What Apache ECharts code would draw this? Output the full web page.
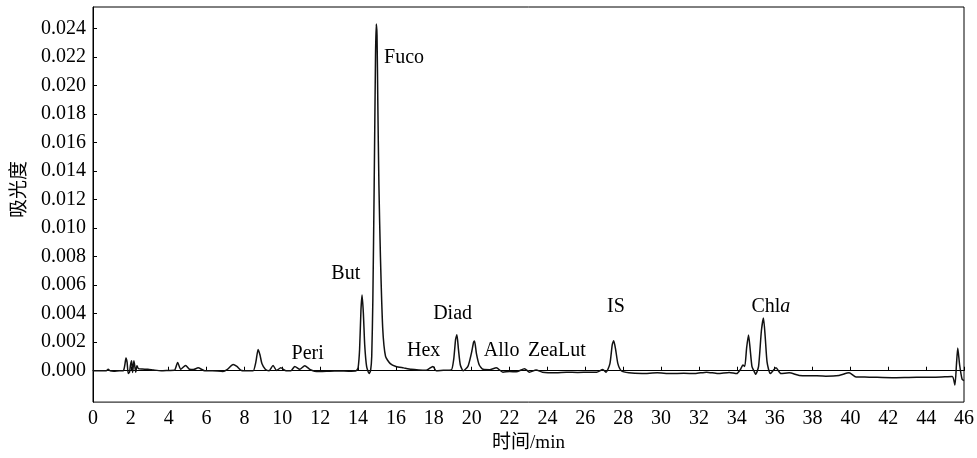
<!DOCTYPE html>
<html>

<head>
    <meta charset="UTF-8">
    <title>色谱图</title>
    <script src="https://cdn.jsdelivr.net/npm/echarts@6/dist/echarts.min.js"></script>
    <style>
        html, body { margin: 0; padding: 0; background: #fff; }
    </style>
</head>

<body>
    <div id="chromContainer" style="width: 977px; height: 458px;"></div>

    <script>
        // 保留时间 (min) 和吸光度
        var times = [0.0, 0.5, 0.7, 0.8, 0.9, 1.1, 1.4, 1.6, 1.68, 1.74, 1.80, 1.86, 1.93, 1.98, 2.04, 2.09, 2.16, 2.22, 2.26, 2.32,
            2.40, 2.6, 2.9, 3.2, 3.6, 4.0, 4.3, 4.47, 4.63, 4.89, 5.1, 5.3, 5.55, 5.9, 6.3, 6.86, 7.1, 7.4, 7.6, 7.84,
            8.2, 8.46, 8.6, 8.72, 8.82, 8.92, 9.1, 9.3, 9.51, 9.69, 9.92, 10.2, 10.45, 10.66, 10.92, 11.18, 11.45, 11.7, 12.0, 12.5,
            13.0, 13.5, 13.9, 14.0, 14.08, 14.15, 14.21, 14.28, 14.35, 14.45, 14.58, 14.66, 14.72, 14.78, 14.85, 14.92, 14.96, 15.0, 15.04, 15.1,
            15.18, 15.3, 15.45, 15.7, 16.0, 16.4, 16.8, 17.2, 17.6, 17.95, 18.13, 18.5, 18.92, 19.05, 19.15, 19.22, 19.3, 19.4, 19.55, 19.8,
            19.98, 20.1, 20.15, 20.25, 20.4, 20.6, 20.94, 21.3, 21.65, 22.0, 22.35, 22.79, 23.05, 23.4, 23.74, 24.46, 25.0, 25.6, 26.2, 26.6,
            26.92, 27.1, 27.3, 27.42, 27.5, 27.6, 27.72, 27.9, 28.3, 29.0, 29.8, 30.5, 31.2, 31.8, 32.4, 33.0, 33.6, 34.0, 34.2, 34.32,
            34.42, 34.52, 34.62, 34.7, 34.8, 34.9, 35.0, 35.15, 35.3, 35.41, 35.5, 35.6, 35.77, 36.07, 36.33, 36.77, 37.3, 38.0, 38.7, 39.4,
            39.93, 40.3, 41.0, 42.2, 43.5, 44.5, 45.38, 45.52, 45.6, 45.67, 45.77, 45.9, 46.0];
        var absorbance = [0.0, 0.0, 0.0, 0.0001, 0.0, -0.00003, 0.0, 0.0, 0.0004, 0.0009, 0.0006, -0.0002, -0.0001, 0.0004, 0.0007, -0.00013, 0.0007, 0.0002, -0.0001, 0.00035,
            0.00015, 0.00012, 0.0001, 0.00005, 0.0, 0.00002, 0.00003, 0.00058, 0.0001, 0.00037, 0.0001, 0.00008, 0.0002, 0.0, 0.0, -0.00005, 0.0001, 0.00044, 0.0003, 0.00002,
            0.0, 0.0, 0.0006, 0.00149, 0.0011, 0.0005, 0.0001, 0.0, 0.00037, 0.00002, 0.0002, 0.0, 0.0, 0.0003, 0.0001, 0.00035, 0.0001, -0.00003, -0.00005, -0.00003,
            -0.00002, -0.00003, 0.0, 0.0002, 0.0015, 0.0042, 0.0053, 0.0040, 0.0018, 0.0003, -0.0002, 0.0, 0.001, 0.005, 0.013, 0.022, 0.0243, 0.0235, 0.019, 0.013,
            0.008, 0.003, 0.001, 0.0005, 0.0003, 0.0002, 0.0001, 0.00005, 0.00003, 0.0003, 0.0, 0.00003, 0.00005, 0.0008, 0.0022, 0.00252, 0.0015, 0.0004, 0.0, 0.0003,
            0.0012, 0.0020, 0.00208, 0.0012, 0.0004, 0.0001, 0.00007, 0.0002, -0.0001, -0.00005, -0.00008, 0.00014, -0.0001, 0.00005, -0.0001, -0.00014, -0.0001, -0.00012, -0.0001, -0.0001,
            0.00008, -0.0001, 0.0005, 0.0018, 0.0021, 0.0015, 0.0005, 0.0, -0.00015, -0.0002, -0.00015, -0.0002, -0.00018, -0.0002, -0.0001, -0.0002, -0.00012, -0.0002, 0.0001, 0.0004,
            0.0003, 0.0016, 0.0025, 0.0016, 0.0003, 0.0, -0.00025, 0.0003, 0.0028, 0.0037, 0.0024, 0.0006, -0.0002, 0.0002, -0.0002, -0.00015, -0.00033, -0.00035, -0.00038, -0.00033,
            -0.00015, -0.00044, -0.00045, -0.00049, -0.00045, -0.00045, -0.0004, -0.001, 0.0004, 0.0016, 0.0004, -0.0006, -0.0007];

        // 峰标注
        var peakNames = ['Fuco', 'But', 'Peri', 'Hex', 'Diad', 'Allo', 'ZeaLut', 'IS', 'Chla'];
        var peakLabelTimes = [16.43, 13.35, 11.34, 17.46, 18.99, 21.58, 24.5, 27.62, 35.8];
        var peakLabelValues = [0.02194, 0.00678, 0.00119, 0.0014, 0.004, 0.00143, 0.00143, 0.00448, 0.00451];

        var yTickValues = [0, 0.002, 0.004, 0.006, 0.008, 0.010, 0.012, 0.014, 0.016, 0.018, 0.020, 0.022, 0.024];

        var serif = "'Liberation Serif', 'Times New Roman', 'Noto Sans CJK SC', serif";

        var lineData = times.map(function (t, i) { return [t, absorbance[i]]; });
        var labelData = peakNames.map(function (n, i) {
            return { name: n, value: [peakLabelTimes[i], peakLabelValues[i]] };
        });

        var myChart = echarts.init(document.getElementById('chromContainer'), null, { renderer: 'canvas' });

        var option = {
            animation: false,
            backgroundColor: '#fff',
            grid: {
                left: 93, right: 12, top: 7, bottom: 54,
                show: true, borderColor: '#000', borderWidth: 1
            },
            xAxis: {
                type: 'value',
                min: 0, max: 46, interval: 2,
                name: '时间/min',
                nameLocation: 'middle',
                nameGap: 31,
                nameTextStyle: { fontFamily: serif, fontSize: 19, color: '#000' },
                axisLine: { lineStyle: { color: '#000', width: 1 } },
                axisTick: { inside: true, length: 4, lineStyle: { color: '#000' } },
                axisLabel: { fontFamily: serif, fontSize: 20, color: '#000', margin: 7 },
                splitLine: { show: false }
            },
            yAxis: {
                type: 'value',
                min: -0.0022, max: 0.0255,
                name: '吸光度',
                nameLocation: 'middle',
                nameGap: 63,
                nameTextStyle: { fontFamily: serif, fontSize: 19, color: '#000', padding: [0, 0, 0, 30] },
                axisLine: { lineStyle: { color: '#000', width: 1 } },
                axisTick: { inside: true, length: 4, customValues: yTickValues, lineStyle: { color: '#000' } },
                axisLabel: {
                    fontFamily: serif, fontSize: 20, color: '#000', margin: 7,
                    customValues: yTickValues,
                    formatter: function (v) { return v.toFixed(3); }
                },
                splitLine: { show: false }
            },
            series: [
                {
                    name: '吸光度',
                    type: 'line',
                    data: lineData,
                    showSymbol: false,
                    smooth: 0.2,
                    lineStyle: { color: '#111', width: 1.5 }
                },
                {
                    name: '峰',
                    type: 'scatter',
                    data: labelData,
                    symbolSize: 0,
                    silent: true,
                    itemStyle: { opacity: 1 },
                    label: {
                        show: true,
                        position: 'inside',
                        opacity: 1,
                        fontFamily: serif,
                        fontSize: 20,
                        color: '#000',
                        formatter: function (p) {
                            return p.name === 'Chla' ? 'Chl{it|a}' : p.name;
                        },
                        rich: {
                            it: { fontFamily: serif, fontSize: 20, fontStyle: 'italic', color: '#000' }
                        }
                    }
                }
            ]
        };

        myChart.setOption(option);
    </script>
</body>

</html>
